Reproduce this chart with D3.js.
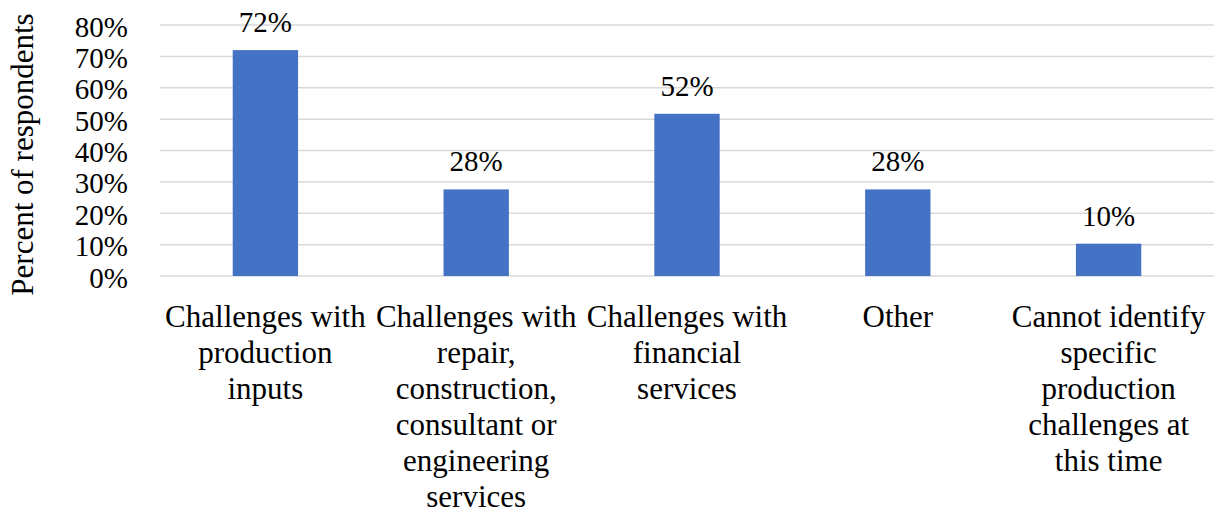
<!DOCTYPE html>
<html>
<head>
<meta charset="utf-8">
<script src="https://cdn.jsdelivr.net/npm/d3@7"></script>
<style>
  html, body { margin: 0; padding: 0; background: #fff; }
  svg { display: block; }
  text { font-family: "Liberation Serif", "Times New Roman", serif; fill: #000; }
</style>
</head>
<body>
<svg id="chart" width="1219" height="514"></svg>
<script>
// ---- data ----
const categories = [
  "Challenges with\nproduction\ninputs",
  "Challenges with\nrepair,\nconstruction,\nconsultant or\nengineering\nservices",
  "Challenges with\nfinancial\nservices",
  "Other",
  "Cannot identify\nspecific\nproduction\nchallenges at\nthis time"
];
const values = [72, 27.6, 51.7, 27.6, 10.3];
const yTicks = [0, 10, 20, 30, 40, 50, 60, 70, 80];
const yTitle = "Percent of respondents";

// ---- layout ----
const svg = d3.select("#chart");
const plotLeft = 160, plotRight = 1214, plotTop = 25, plotBottom = 276;

const x = d3.scaleBand().domain(categories).range([plotLeft, plotRight]).paddingInner(0.69).paddingOuter(0.345);
const y = d3.scaleLinear().domain([0, 80]).range([plotBottom, plotTop]);

// gridlines
svg.append("g").selectAll("line").data(yTicks).join("line")
  .attr("x1", plotLeft).attr("x2", plotRight)
  .attr("y1", d => y(d)).attr("y2", d => y(d))
  .attr("stroke", "#d9d9d9").attr("stroke-width", 1.5);

// y axis tick labels
const yAxis = d3.axisLeft(y).tickValues(yTicks).tickFormat(d => d + "%").tickSize(0).tickPadding(0);
const gy = svg.append("g").attr("transform", `translate(128,0)`).call(yAxis);
gy.select(".domain").remove();
gy.selectAll("text")
  .attr("font-family", "Liberation Serif, Times New Roman, serif")
  .attr("font-size", 29).attr("fill", "#000")
  .attr("x", 0).attr("dy", null).attr("y", 11)
  .attr("text-anchor", "end");

// bars
svg.append("g").selectAll("rect").data(values).join("rect")
  .attr("x", (d, i) => x(categories[i]))
  .attr("width", x.bandwidth())
  .attr("y", d => y(d))
  .attr("height", d => y(0) - y(d))
  .attr("fill", "#4472C4");

// data labels
svg.append("g").selectAll("text").data(values).join("text")
  .attr("x", (d, i) => x(categories[i]) + x.bandwidth() / 2)
  .attr("y", d => y(d) - 18)
  .attr("text-anchor", "middle")
  .attr("font-size", 29)
  .text(d => Math.round(d) + "%");

// category labels
const xAxis = d3.axisBottom(x).tickSize(0).tickFormat("");
const gx = svg.append("g").attr("transform", `translate(0,${plotBottom})`).call(xAxis);
gx.select(".domain").remove();
gx.selectAll(".tick").each(function(d) {
  const t = d3.select(this).append("text")
    .attr("text-anchor", "middle")
    .attr("font-size", 31)
    .attr("font-family", "Liberation Serif, Times New Roman, serif")
    .attr("fill", "#000");
  d.split("\n").forEach((line, i) => {
    t.append("tspan").attr("x", 0).attr("y", 51 + i * 36).text(line);
  });
});

// y title
svg.append("text")
  .attr("transform", `translate(33,${(12 + 297) / 2}) rotate(-90)`)
  .attr("text-anchor", "middle")
  .attr("font-size", 31)
  .text(yTitle);
</script>
</body>
</html>
